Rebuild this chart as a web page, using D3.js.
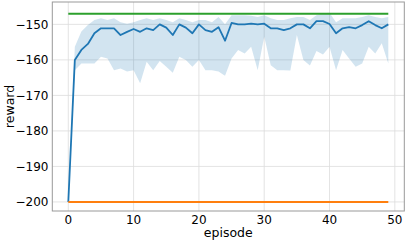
<!DOCTYPE html>
<html><head><meta charset="utf-8">
<script src="https://cdn.jsdelivr.net/npm/d3@7"></script>
<style>body{margin:0;background:#fff}svg{display:block}</style>
</head><body>
<svg id="c" width="407" height="242"></svg>
<script>
const episodes = d3.range(0, 50);
const meanReward = [-200,-160.0,-157.2,-155.5,-152.5,-151.1,-151.1,-151.1,-153.0,-152.1,
  -151.3,-152.1,-151.1,-151.6,-150.0,-150.9,-153.0,-150.0,-150.9,-152.5,
  -150.0,-151.6,-152.1,-150.8,-154.6,-149.6,-150.0,-150.0,-149.8,-150.0,
  -149.8,-151.1,-151.1,-151.6,-151.1,-150.0,-150.0,-151.1,-149.1,-149.1,
  -149.9,-152.5,-151.1,-150.8,-151.1,-150.2,-149.1,-150.2,-151.1,-150.0];
const upperReward = [-200,-156.3,-152,-150.2,-148.8,-148.3,-148.8,-148.3,-149.4,-149.8,
  -149.4,-148.8,-148.3,-148.8,-148.3,-148.8,-149.4,-148.3,-148.8,-149.4,
  -148.8,-148.8,-149.4,-147.9,-150.0,-147.4,-147.4,-147.4,-147.6,-147.9,
  -147.4,-148.3,-148.8,-148.8,-148.3,-147.9,-147.9,-148.8,-147.4,-146.9,
  -146.7,-149.4,-148.3,-148.3,-148.3,-147.9,-147.4,-147.9,-148.3,-147.9];
const lowerReward = [-200,-162.9,-161,-161,-161,-159.1,-159.6,-162.9,-162.4,-163.3,
  -162.9,-166.6,-160.5,-162.9,-160.3,-161.9,-163.6,-159.1,-160,-161.9,
  -160,-162.9,-162.9,-163.3,-164.5,-159.6,-157.2,-158.2,-156.3,-162.9,
  -153.5,-161.5,-162.9,-162.9,-163.0,-153.0,-160,-161.6,-157.5,-158.5,
  -156.3,-162.9,-157.2,-159.6,-161.9,-161,-156.3,-158.2,-155.3,-161];
const minReward = episodes.map(() => -200);
const maxReward = episodes.map(() => -147);
const xTicks = [0,10,20,30,40,50];
const yTicks = [-200,-190,-180,-170,-160,-150];

const svg = d3.select('#c');
const L = 52.3, R = 404.3, T = 2, B = 211;
const x = d3.scaleLinear().domain([-2.45, 51.45]).range([L, R]);
const y = d3.scaleLinear().domain([-202.55, -143.7]).range([B, T]);
const font = 'DejaVu Sans';

// grid
svg.append('g').selectAll('line').data(xTicks).join('line')
  .attr('x1', d => x(d)).attr('x2', d => x(d)).attr('y1', T).attr('y2', B)
  .attr('stroke', '#dcdcdc').attr('stroke-width', 0.8);
svg.append('g').selectAll('line').data(yTicks).join('line')
  .attr('y1', d => y(d)).attr('y2', d => y(d)).attr('x1', L).attr('x2', R)
  .attr('stroke', '#dcdcdc').attr('stroke-width', 0.8);

// band
const area = d3.area().x((d, i) => x(episodes[i])).y0((d, i) => y(lowerReward[i])).y1((d, i) => y(upperReward[i]));
svg.append('path').datum(episodes).attr('d', area).attr('fill', '#1f77b4').attr('fill-opacity', 0.2);

const line = arr => d3.line().x((d, i) => x(episodes[i])).y((d, i) => y(arr[i]))(arr);
svg.append('path').attr('d', line(meanReward)).attr('fill', 'none').attr('stroke', '#1f77b4').attr('stroke-width', 1.8).attr('stroke-linejoin', 'round');
svg.append('path').attr('d', line(minReward)).attr('fill', 'none').attr('stroke', '#ff7f0e').attr('stroke-width', 2);
svg.append('path').attr('d', line(maxReward)).attr('fill', 'none').attr('stroke', '#2ca02c').attr('stroke-width', 2);

// spines
svg.append('rect').attr('x', L).attr('y', T).attr('width', R - L).attr('height', B - T)
  .attr('fill', 'none').attr('stroke', '#999').attr('stroke-width', 1);

// ticks
const fmt = d => d < 0 ? '\u2212' + Math.abs(d) : String(d);
svg.append('g').selectAll('text').data(xTicks).join('text')
  .attr('x', d => x(d)).attr('y', 224).attr('text-anchor', 'middle')
  .attr('font-family', font).attr('font-size', 12).attr('fill', '#000').text(fmt);
svg.append('g').selectAll('text').data(yTicks).join('text')
  .attr('x', 48.5).attr('y', d => y(d) + 4.4).attr('text-anchor', 'end')
  .attr('font-family', font).attr('font-size', 12).attr('fill', '#000').text(fmt);

svg.append('text').attr('x', (L + R) / 2).attr('y', 237).attr('text-anchor', 'middle')
  .attr('font-family', font).attr('font-size', 12.5).text('episode');
svg.append('text').attr('transform', `translate(14,${(T + B) / 2}) rotate(-90)`).attr('text-anchor', 'middle')
  .attr('font-family', font).attr('font-size', 12.5).text('reward');
</script>
</body></html>
